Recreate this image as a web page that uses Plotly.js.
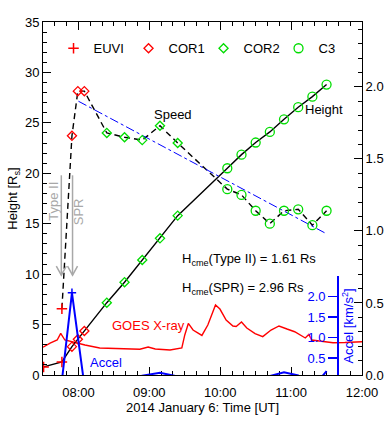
<!DOCTYPE html>
<html>
<head>
<meta charset="utf-8">
<script src="https://cdn.plot.ly/plotly-3.0.1.min.js"></script>
<style>html,body{margin:0;padding:0;background:#fff;}#chart{width:386px;height:421px;}</style>
</head>
<body>
<div id="chart"></div>
<script>
// ---------- data ----------
const D = '2014-01-06 ';
const euviTime = ['07:30:30', '07:46'];
const euviHeight = [0.8, 1.3];
const euviSpeedTime = ['07:46'];
const euviSpeed = [0.46];

const cor1Time = ['07:54:30', '07:59:30', '08:05'];
const cor1Height = [2.81, 3.54, 4.36];
const cor1Speed = [1.66, 1.97, 1.97];

const cor2Time = ['08:24', '08:39', '08:54', '09:09', '09:24'];
const cor2Height = [7.17, 9.2, 11.4, 13.55, 15.8];
const cor2Speed = [1.68, 1.65, 1.63, 1.73, 1.61];

const c3Time = ['10:06', '10:18', '10:30', '10:42', '10:54', '11:06', '11:18', '11:30'];
const c3Height = [20.5, 21.85, 23.05, 24.1, 25.35, 26.55, 27.6, 28.8];
const c3Speed = [1.29, 1.25, 1.14, 1.05, 1.14, 1.15, 1.04, 1.14];

const fitTime = ['08:00', '11:30'];
const fitSpeed = [1.90, 0.98];

const accelTime = ['07:46', '07:54:30', '08:05', '08:24', '08:39', '08:54', '09:09', '09:24',
                   '10:06', '10:18', '10:30', '10:42', '10:54', '11:06', '11:18', '11:30'];
const accelValue = [-0.05, 2.09, -0.16, -0.3, -0.1, 0.07, 0.14, 0.06,
                    -0.2, -0.1, -0.05, 0.06, 0.15, 0.075, -0.23, 0.18];

// GOES X-ray light curve, in the plot's height units
const goesTime = ['07:30', '07:36', '07:42', '07:45', '07:48:30', '07:54:30', '08:05:30', '08:18',
  '08:35', '08:52', '08:59', '09:05', '09:17:30', '09:27:30', '09:30', '09:33', '09:37', '09:44:30',
  '09:49:30', '09:56', '09:59:45', '10:05', '10:10:45', '10:13:30', '10:18', '10:22:30', '10:29:30',
  '10:36', '10:43', '10:49:45', '10:56:30', '11:03', '11:12', '11:15', '11:17:30', '11:24',
  '11:35:30', '11:45:30', '12:00'];
const goesLevel = [2.75, 3.17, 3.47, 4.13, 3.47, 3.27, 2.97, 2.68,
  2.58, 2.55, 2.78, 2.58, 2.48, 2.68, 3.97, 5.11, 4.46, 3.92,
  4.96, 6.94, 6.54, 5.45, 4.86, 4.81, 5.25, 4.66, 4.11,
  3.80, 4.46, 4.86, 4.56, 4.29, 3.67, 4.02, 3.47, 3.37,
  3.20, 3.22, 3.30];

const typeIITime = '07:45:30';
const sprTime = '07:55';
const heightTypeII = 1.61;
const heightSPR = 2.96;

const xTickHours = ['08:00', '09:00', '10:00', '11:00', '12:00'];

// ---------- helpers ----------
const t = arr => arr.map(s => D + s);
const RED = '#ff0000', GREEN = '#00dd00', BLUE = '#0000ff', GREY = '#a8a8a8';
const FONT = '"Liberation Sans", Arial, Helvetica, sans-serif';

const heightAllT = t(euviTime.concat(cor1Time, cor2Time, c3Time));
const heightAll = euviHeight.concat(cor1Height, cor2Height, c3Height);
const speedAllT = t(euviSpeedTime.concat(cor1Time, cor2Time, c3Time));
const speedAll = euviSpeed.concat(cor1Speed, cor2Speed, c3Speed);
const peakIdx = accelValue.indexOf(Math.max.apply(null, accelValue));

const mCross = c => ({symbol: 'cross-thin-open', size: 7.5, color: c, line: {color: c, width: 1.5}});
const mDiam = c => ({symbol: 'diamond-open', size: 7, color: c, line: {color: c, width: 1.3}});
const mCirc = c => ({symbol: 'circle-open', size: 9, color: c, line: {color: c, width: 1.3}});

const traces = [
  {x: t(goesTime), y: goesLevel, mode: 'lines', line: {color: RED, width: 1.4}, showlegend: false},
  {x: t(accelTime), y: accelValue, yaxis: 'y3', mode: 'lines', line: {color: BLUE, width: 2}, showlegend: false},
  {x: [D + accelTime[peakIdx]], y: [accelValue[peakIdx]], yaxis: 'y3', mode: 'markers',
   marker: {symbol: 'cross-thin-open', size: 6, color: BLUE, line: {color: BLUE, width: 1.5}}, showlegend: false},
  {x: heightAllT, y: heightAll, mode: 'lines', line: {color: '#000', width: 1.4}, showlegend: false},
  {x: speedAllT, y: speedAll, yaxis: 'y2', mode: 'lines', line: {color: '#000', width: 1.4, dash: '6px,4px'}, showlegend: false},
  {x: t(fitTime), y: fitSpeed, yaxis: 'y2', mode: 'lines', line: {color: BLUE, width: 1, dash: 'dashdot'}, showlegend: false},
  // height markers (legend)
  {x: t(euviTime), y: euviHeight, mode: 'markers', name: 'EUVI', marker: mCross(RED)},
  {x: t(cor1Time), y: cor1Height, mode: 'markers', name: 'COR1', marker: mDiam(RED)},
  {x: t(cor2Time), y: cor2Height, mode: 'markers', name: 'COR2', marker: mDiam(GREEN)},
  {x: t(c3Time), y: c3Height, mode: 'markers', name: 'C3', marker: mCirc(GREEN)},
  // speed markers
  {x: t(euviSpeedTime), y: euviSpeed, yaxis: 'y2', mode: 'markers', showlegend: false, marker: mCross(RED)},
  {x: t(cor1Time), y: cor1Speed, yaxis: 'y2', mode: 'markers', showlegend: false, marker: mDiam(RED)},
  {x: t(cor2Time), y: cor2Speed, yaxis: 'y2', mode: 'markers', showlegend: false, marker: mDiam(GREEN)},
  {x: t(c3Time), y: c3Speed, yaxis: 'y2', mode: 'markers', showlegend: false, marker: mCirc(GREEN)}
];

function arrowShapes(time) {
  return [
    {type: 'line', xref: 'x', yref: 'y', x0: D + time, x1: D + time, y0: 9.9, y1: 19.8,
     line: {color: GREY, width: 1.5}},
    {type: 'path', xref: 'x', yref: 'y', xsizemode: 'pixel', ysizemode: 'pixel',
     xanchor: D + time, yanchor: 9.9, path: 'M -5,9 L 0,0 L 5,9',
     line: {color: GREY, width: 1.5}}
  ];
}

function note(x, y, text, extra) {
  return Object.assign({xref: 'paper', yref: 'paper', x: x, y: y, text: text, showarrow: false,
    xanchor: 'center', yanchor: 'middle', font: {size: 13}}, extra || {});
}

const annotations = [
  note(0.0345, 0.491, 'Type II', {textangle: -90, font: {color: GREY, size: 13}}),
  note(0.114, 0.462, 'SPR', {textangle: -90, font: {color: GREY, size: 13}}),
  note(0.409, 0.737, 'Speed'),
  note(0.880, 0.751, 'Height'),
  note(0.431, 0.326, 'H<sub>cme</sub>(Type II) = ' + heightTypeII.toFixed(2) + ' Rs', {xanchor: 'left'}),
  note(0.431, 0.246, 'H<sub>cme</sub>(SPR) = ' + heightSPR.toFixed(2) + ' Rs', {xanchor: 'left'}),
  note(0.331, 0.139, 'GOES X-ray', {font: {size: 13, color: RED}}),
  note(0.197, 0.034, 'Accel', {font: {size: 13, color: BLUE}}),
  note(0.955, 0.139, 'Accel [km/s<sup>2</sup>]', {textangle: -90, font: {size: 13, color: BLUE}}),
  note(1.10, 0.5, 'Speed [10<sup>3</sup> km/s]', {textangle: -90})
];

const layout = {
  width: 386, height: 421,
  margin: {l: 43, r: 24, t: 22, b: 46, pad: 0},
  paper_bgcolor: '#fff', plot_bgcolor: 'rgba(0,0,0,0)',
  font: {family: FONT, size: 13, color: '#000'},
  showlegend: true,
  legend: {orientation: 'h', x: 0.033, y: 0.968, xanchor: 'left', yanchor: 'top',
           bgcolor: 'rgba(0,0,0,0)', font: {size: 13}, entrywidth: 30, entrywidthmode: 'pixels'},
  xaxis: {
    type: 'date', range: [D + '07:30', D + '12:00'],
    tickvals: t(xTickHours), ticktext: xTickHours,
    ticks: 'inside', ticklen: 8, tickwidth: 1, tickcolor: '#000', ticklabelstandoff: 5,
    minor: {dtick: 600000, ticks: 'inside', ticklen: 4, tickcolor: '#000', showgrid: false},
    showline: true, linecolor: '#000', linewidth: 1, mirror: 'ticks',
    showgrid: false, zeroline: false,
    title: {text: '2014 January 6: Time [UT]', font: {size: 13}, standoff: 3}
  },
  yaxis: {
    range: [0, 35], dtick: 5, ticks: 'inside', ticklen: 8, tickcolor: '#000',
    minor: {dtick: 1, ticks: 'inside', ticklen: 4, tickcolor: '#000', showgrid: false},
    showline: true, linecolor: '#000', linewidth: 1,
    showgrid: false, zeroline: false,
    title: {text: 'Height [R<sub>s</sub>]', font: {size: 13}, standoff: 4}
  },
  yaxis2: {
    overlaying: 'y', side: 'right', range: [0, 2.45], dtick: 0.5, tickformat: '.1f',
    ticks: 'inside', ticklen: 8, tickcolor: '#000',
    minor: {dtick: 0.1, ticks: 'inside', ticklen: 4, tickcolor: '#000', showgrid: false},
    showline: true, linecolor: '#000', linewidth: 1,
    showgrid: false, zeroline: false
  },
  yaxis3: {
    domain: [0, 0.2805], anchor: 'free', position: 0.922, side: 'left',
    range: [0.086, 2.5], tickvals: [0.5, 1.0, 1.5, 2.0], tickformat: '.1f',
    ticks: 'outside', ticklen: 9, tickwidth: 1.5, tickcolor: BLUE,
    tickfont: {color: BLUE, size: 13},
    showline: true, linecolor: BLUE, linewidth: 1.5,
    showgrid: false, zeroline: false
  },
  shapes: arrowShapes(typeIITime).concat(arrowShapes(sprTime)),
  annotations: annotations
};

Plotly.newPlot('chart', traces, layout, {displayModeBar: false, staticPlot: true});
</script>
</body>
</html>
